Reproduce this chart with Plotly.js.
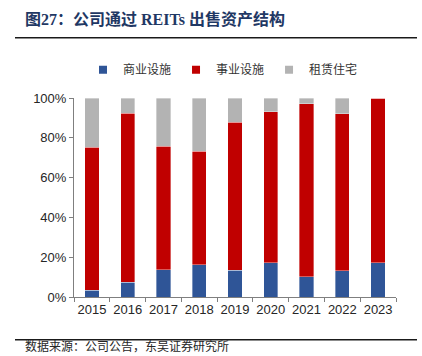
<!DOCTYPE html>
<html>
<head>
<meta charset="utf-8">
<script src="https://cdn.plot.ly/plotly-3.0.1.min.js"></script>
<style>html,body{margin:0;padding:0;background:#fff;}#chart{width:422px;height:356px;}</style>
</head>
<body>
<div id="chart"></div>
<script>
const years = ['2015','2016','2017','2018','2019','2020','2021','2022','2023'];
const commercial = [3.5, 7.5, 13.7, 16.2, 13.5, 17.3, 10.2, 13.2, 17.2];
const utility = [71.7, 84.8, 62.0, 57.0, 74.2, 75.7, 86.8, 78.8, 82.8];
const rental = [24.8, 7.7, 24.3, 26.8, 12.3, 7.0, 3.0, 8.0, 0.0];
const seriesNames = ['商业设施', '事业设施', '租赁住宅'];
const colors = ['#2F5597', '#C00000', '#B3B3B3'];

const data = [commercial, utility, rental].map((vals, i) => ({
  type: 'bar', x: years, y: vals, name: seriesNames[i], showlegend: false,
  marker: {color: colors[i], line: {color: 'rgba(255,255,255,0.6)', width: 0.6}},
  hoverinfo: 'skip'
}));
// legend entries with small square markers
seriesNames.forEach((n, i) => data.push({
  type: 'scatter', mode: 'markers', x: [null], y: [null], name: n, showlegend: true,
  marker: {symbol: 'square', size: 8, color: colors[i]}, hoverinfo: 'skip'
}));

const W = 422, H = 356, L = 74, R = 26, T = 97.5, B = 58.5;
const pw = W - L - R, ph = H - T - B;
const px = x => (x - L) / pw;
const py = y => (H - B - y) / ph;

const layout = {
  width: W, height: H,
  margin: {l: L, r: R, t: T, b: B, pad: 0},
  paper_bgcolor: '#fff', plot_bgcolor: '#fff',
  barmode: 'stack', bargap: 0.6,
  showlegend: true,
  font: {family: 'Liberation Sans, Arial, sans-serif', size: 13, color: '#262626'},
  title: {
    text: '<b>图27：公司通过 REITs 出售资产结构</b>',
    font: {family: 'Liberation Serif, Noto Sans CJK SC, serif', size: 16, color: '#1F3864'},
    x: 25 / W, xanchor: 'left', xref: 'container',
    y: 1 - 19 / H, yanchor: 'middle', yref: 'container'
  },
  legend: {
    orientation: 'h', x: px(223), xanchor: 'center', y: py(69), yanchor: 'middle',
    traceorder: 'normal',
    font: {family: 'Noto Sans CJK SC, sans-serif', size: 12, color: '#333'},
    itemwidth: 30, tracegroupgap: 0
  },
  xaxis: {
    type: 'category', showgrid: false, zeroline: false,
    showline: true, linecolor: '#7f7f7f', linewidth: 1,
    ticks: 'outside', tickson: 'boundaries', ticklen: 4, tickcolor: '#7f7f7f',
    tickangle: 0,
    tickfont: {family: 'Liberation Sans, Arial, sans-serif', size: 13, color: '#262626'},
    fixedrange: true
  },
  yaxis: {
    range: [0, 100], dtick: 20, ticksuffix: '%', showgrid: false, zeroline: false,
    showline: true, linecolor: '#7f7f7f', linewidth: 1,
    ticks: 'outside', ticklen: 4, tickcolor: '#7f7f7f',
    tickfont: {family: 'Liberation Sans, Arial, sans-serif', size: 13, color: '#262626'},
    fixedrange: true
  },
  shapes: [
    {type: 'line', xref: 'paper', yref: 'paper', x0: px(15), x1: px(417), y0: py(37), y1: py(37), line: {color: '#1a1a1a', width: 1.5}},
    {type: 'line', xref: 'paper', yref: 'paper', x0: px(15), x1: px(417), y0: py(340.5), y1: py(340.5), line: {color: '#1a1a1a', width: 1.5}}
  ],
  annotations: [
    {text: '数据来源：公司公告，东吴证券研究所', xref: 'paper', yref: 'paper', x: px(24), xanchor: 'left', y: py(356), yanchor: 'bottom', showarrow: false,
     borderpad: 0,
     font: {family: 'Noto Sans CJK SC, sans-serif', size: 12, color: '#262626'}}
  ]
};

Plotly.newPlot('chart', data, layout, {displayModeBar: false, staticPlot: true});
</script>
</body>
</html>
